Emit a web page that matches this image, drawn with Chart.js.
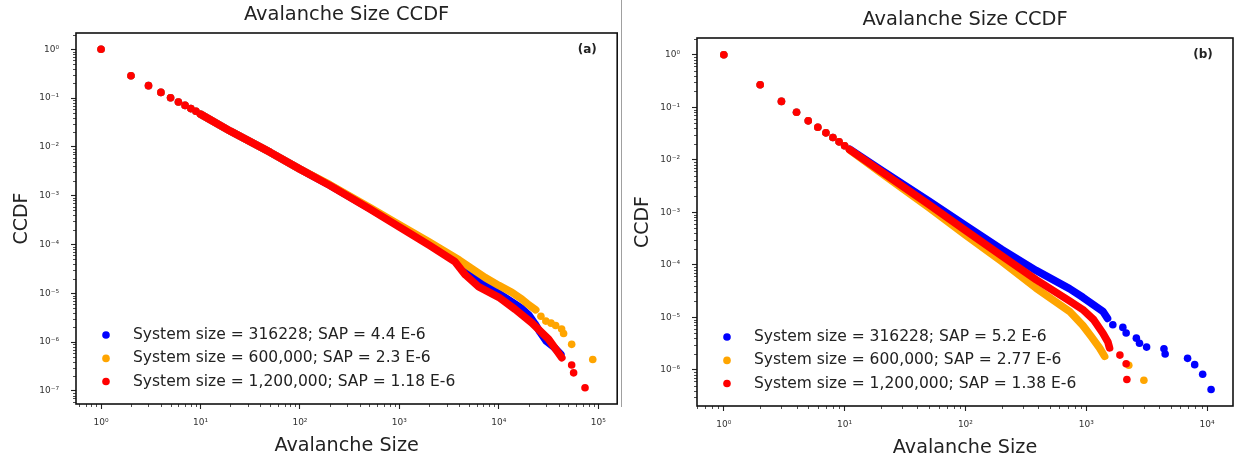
<!DOCTYPE html>
<html><head><meta charset="utf-8">
<script src="https://cdn.jsdelivr.net/npm/chart.js@4.4.1/dist/chart.umd.min.js"></script>
<style>
html,body{margin:0;padding:0;background:#fff;}
#wrap{position:relative;width:1241px;height:461px;overflow:hidden;background:#fff;}
canvas{position:absolute;top:0;}
#ca{left:0;} #cb{left:621px;}
#sep{position:absolute;left:620.5px;top:0;width:1.3px;height:407px;background:#a0a0a0;}
</style></head><body>
<div id="wrap"><canvas id="ca" width="621" height="461"></canvas><div id="sep"></div><canvas id="cb" width="620" height="461"></canvas></div>
<script>
// ---------- Panel (a) data ----------
const xTicksA = [1, 10, 100, 1000, 10000, 100000];
const xTickLabelsA = ['10⁰', '10¹', '10²', '10³', '10⁴', '10⁵'];
const yTicksA = [1, 0.1, 0.01, 1e-3, 1e-4, 1e-5, 1e-6, 1e-7];
const yTickLabelsA = ['10⁰', '10⁻¹', '10⁻²', '10⁻³', '10⁻⁴', '10⁻⁵', '10⁻⁶', '10⁻⁷'];
const legendA = ['System size = 316228; SAP = 4.4 E-6', 'System size = 600,000; SAP = 2.3 E-6', 'System size = 1,200,000; SAP = 1.18 E-6'];
const headA = [[1,1],[2,0.288],[3,0.180],[4,0.131],[5,0.102],[6,0.083],[7,0.071],[8,0.061],[9,0.054]];
const blueA_band = [[10,0.047],[20,0.021],[50,0.0078],[100,0.0035],[200,0.00164],[500,5.55e-4],[1000,2.4e-4],[2000,1.03e-4],[3600,4.9e-5],[5400,2.4e-5],[7300,1.45e-5],[10000,1.0e-5],[13500,6.7e-6],[17000,4.9e-6],[20000,3.6e-6],[23000,2.4e-6],[26000,1.6e-6],[30000,1.05e-6],[36000,7.8e-7],[42000,5.6e-7]];
const blueA_tail = [];
const orangeA_band = [[10,0.047],[20,0.021],[50,0.0078],[100,0.0035],[200,0.00168],[500,5.8e-4],[1000,2.55e-4],[2000,1.12e-4],[4000,4.8e-5],[7300,2.1e-5],[10000,1.45e-5],[13500,1.05e-5],[17000,7.6e-6],[20000,5.8e-6],[23500,4.6e-6]];
const orangeA_tail = [[26500,3.4e-6],[29700,2.7e-6],[33500,2.45e-6],[37300,2.2e-6],[42800,1.85e-6],[44800,1.5e-6],[54000,9.0e-7],[88000,4.4e-7]];
const redA_band = [[10,0.047],[20,0.021],[50,0.0078],[100,0.0035],[200,0.00162],[500,5.4e-4],[1000,2.3e-4],[2000,9.7e-5],[3600,4.5e-5],[4600,2.4e-5],[6300,1.35e-5],[10000,8.3e-6],[14600,4.7e-6],[21400,2.5e-6],[31700,1.15e-6],[43000,4.8e-7]];
const redA_tail = [[54000,3.4e-7],[56500,2.35e-7],[73600,1.16e-7]];

// ---------- Panel (b) data ----------
const xTicksB = [1, 10, 100, 1000, 10000];
const xTickLabelsB = ['10⁰', '10¹', '10²', '10³', '10⁴'];
const yTicksB = [1, 0.1, 0.01, 1e-3, 1e-4, 1e-5, 1e-6];
const yTickLabelsB = ['10⁰', '10⁻¹', '10⁻²', '10⁻³', '10⁻⁴', '10⁻⁵', '10⁻⁶'];
const legendB = ['System size = 316228; SAP = 5.2 E-6', 'System size = 600,000; SAP = 2.77 E-6', 'System size = 1,200,000; SAP = 1.38 E-6'];
const headB = [[1,1],[2,0.268],[3,0.129],[4,0.080],[5,0.055],[6,0.0415],[7,0.0325],[8,0.0265],[9,0.0219],[10,0.0185]];
const blueB_band = [[11,0.0158],[20,6.4e-3],[50,1.62e-3],[100,5.6e-4],[200,1.95e-4],[384,7.8e-5],[726,3.5e-5],[936,2.4e-5],[1372,1.3e-5],[1500,9.5e-6]];
const blueB_tail = [[1660,7.2e-6],[2010,6.4e-6],[2140,5.0e-6],[2600,4.0e-6],[2760,3.2e-6],[3160,2.7e-6],[4400,2.5e-6],[4500,2.0e-6],[6900,1.65e-6],[7900,1.25e-6],[9200,8.2e-7],[10800,4.2e-7]];
const orangeB_band = [[11,0.0154],[20,5.6e-3],[50,1.22e-3],[100,3.7e-4],[200,1.15e-4],[384,3.6e-5],[726,1.3e-5],[936,7.0e-6],[1100,4.3e-6],[1290,2.6e-6],[1420,1.8e-6]];
const orangeB_tail = [[2250,1.22e-6],[3000,6.3e-7]];
const redB_band = [[11,0.0156],[20,6.0e-3],[50,1.40e-3],[100,4.5e-4],[200,1.48e-4],[384,5.2e-5],[726,2.05e-5],[936,1.4e-5],[1150,9.0e-6],[1372,5.0e-6],[1510,3.4e-6],[1560,2.6e-6]];
const redB_tail = [[1900,1.9e-6],[2140,1.3e-6],[2170,6.5e-7]];

const seriesColors = ['#0000ff', '#ffa500', '#ff0000'];

Chart.defaults.font.family = '"DejaVu Sans", sans-serif';

function pts(arr){ return arr.map(p => ({x: p[0], y: p[1]})); }

function seriesSets(dots, band, color, order){
  return [
    {data: pts(band), showLine: true, borderColor: color, backgroundColor: color, borderWidth: 7.6,
     borderCapStyle: 'round', borderJoinStyle: 'round', pointRadius: 0, pointHoverRadius: 0, fill: false, order},
    {data: pts(dots), showLine: false, backgroundColor: color, borderColor: color, pointRadius: 3.8,
     pointBorderWidth: 0, borderWidth: 0, pointHoverRadius: 3.8, order}
  ];
}

function minorTicks(ctx, scale, horizontal, edge, len){
  const lo = Math.floor(Math.log10(scale.min)), hi = Math.ceil(Math.log10(scale.max));
  ctx.beginPath();
  for (let d = lo; d <= hi; d++){
    for (let k = 2; k <= 9; k++){
      const v = k * Math.pow(10, d);
      if (v < scale.min || v > scale.max) continue;
      const p = Math.round(scale.getPixelForValue(v)) + 0.5;
      if (horizontal){ ctx.moveTo(p, edge); ctx.lineTo(p, edge + len); }
      else { ctx.moveTo(edge, p); ctx.lineTo(edge - len, p); }
    }
  }
  ctx.stroke();
}

const decor = {
  id: 'decor',
  afterDraw(chart, args, o){
    const {ctx, chartArea: a, scales} = chart;
    ctx.save();
    ctx.strokeStyle = '#222'; ctx.lineWidth = 0.8;
    minorTicks(ctx, scales.x, true, a.bottom, 3);
    minorTicks(ctx, scales.y, false, a.left, 3);
    ctx.lineWidth = 1.6; ctx.strokeStyle = '#111';
    ctx.strokeRect(a.left, a.top, a.right - a.left, a.bottom - a.top);
    ctx.fillStyle = '#222'; ctx.textAlign = 'center'; ctx.textBaseline = 'middle';
    ctx.font = '19.4px "DejaVu Sans"';
    ctx.fillText(o.title, (a.left + a.right) / 2, a.top - 18);
    ctx.font = 'bold 12px "DejaVu Sans"';
    ctx.fillText(o.tag, a.right - 30, a.top + 17);
    ctx.font = '15.5px "DejaVu Sans"'; ctx.textAlign = 'left';
    o.items.forEach((t, i) => {
      const y = a.bottom + o.rows[i];
      ctx.fillStyle = seriesColors[i];
      ctx.beginPath(); ctx.arc(a.left + 30, y, 3.8, 0, Math.PI * 2); ctx.fill();
      ctx.fillStyle = '#222';
      ctx.fillText(t, a.left + 57, y);
    });
    ctx.restore();
  }
};

function makeChart(id, cfg){
  const tickFont = {family: '"DejaVu Sans"', size: 9};
  return new Chart(document.getElementById(id), {
    type: 'scatter',
    data: {datasets: [
      ...seriesSets(cfg.red[0], cfg.red[1], seriesColors[2], 1),
      ...seriesSets(cfg.orange[0], cfg.orange[1], seriesColors[1], 2),
      ...seriesSets(cfg.blue[0], cfg.blue[1], seriesColors[0], 3)
    ]},
    options: {
      responsive: false, animation: false, events: [], devicePixelRatio: 1,
      layout: {padding: cfg.pad},
      plugins: {legend: {display: false}, tooltip: {enabled: false},
        decor: {title: 'Avalanche Size CCDF', tag: cfg.tag, items: cfg.legend, rows: [-69, -45.6, -22.5]}},
      scales: {
        x: {type: 'logarithmic', position: 'bottom', min: cfg.xmin, max: cfg.xmax,
          afterBuildTicks: s => { s.ticks = cfg.xt.map(v => ({value: v, major: true})); },
          afterFit: s => { s.height = cfg.xh; s.paddingLeft = 0; s.paddingRight = 0; },
          ticks: {autoSkip: false, maxRotation: 0, minRotation: 0, padding: 8.5, color: '#333', font: tickFont,
            callback: (v, i) => cfg.xl[i]},
          grid: {display: true, drawOnChartArea: false, drawTicks: true, tickLength: 5, tickWidth: 1.1, tickColor: '#222'},
          border: {display: false},
          title: {display: true, text: 'Avalanche Size', color: '#222', font: {family: '"DejaVu Sans"', size: 19.2},
            padding: {top: 0, bottom: cfg.xtp}}},
        y: {type: 'logarithmic', position: 'left', min: cfg.ymin, max: cfg.ymax,
          afterBuildTicks: s => { s.ticks = cfg.yt.map(v => ({value: v, major: true})); },
          afterFit: s => { s.width = cfg.yw; s.paddingTop = 0; s.paddingBottom = 0; },
          ticks: {autoSkip: false, padding: 12, color: '#333', font: tickFont,
            callback: (v, i) => cfg.yl[i]},
          grid: {display: true, drawOnChartArea: false, drawTicks: true, tickLength: 5, tickWidth: 1.1, tickColor: '#222'},
          border: {display: false},
          title: {display: true, text: 'CCDF', color: '#222', font: {family: '"DejaVu Sans"', size: 19},
            padding: {top: 11, bottom: 0}}}
      }
    },
    plugins: [decor]
  });
}

makeChart('ca', {
  red: [headA.concat(redA_tail), redA_band],
  orange: [headA.concat(orangeA_tail), orangeA_band],
  blue: [headA.concat(blueA_tail), blueA_band],
  xmin: 0.56, xmax: 155000, ymin: 5.4e-8, ymax: 2.16,
  xt: xTicksA, xl: xTickLabelsA, yt: yTicksA, yl: yTickLabelsA,
  pad: {left: 0, top: 33, right: 2, bottom: 0}, yw: 76, xh: 57, xtp: 3.6,
  tag: '(a)', legend: legendA
});
makeChart('cb', {
  red: [headB.concat(redB_tail), redB_band],
  orange: [headB.concat(orangeB_tail), orangeB_band],
  blue: [headB.concat(blueB_tail), blueB_band],
  xmin: 0.641, xmax: 16400, ymin: 2.04e-7, ymax: 2.08,
  xt: xTicksB, xl: xTickLabelsB, yt: yTicksB, yl: yTickLabelsB,
  pad: {left: 0, top: 38, right: 8, bottom: 0}, yw: 76, xh: 55, xtp: 1.6,
  tag: '(b)', legend: legendB
});
</script>
</body></html>
